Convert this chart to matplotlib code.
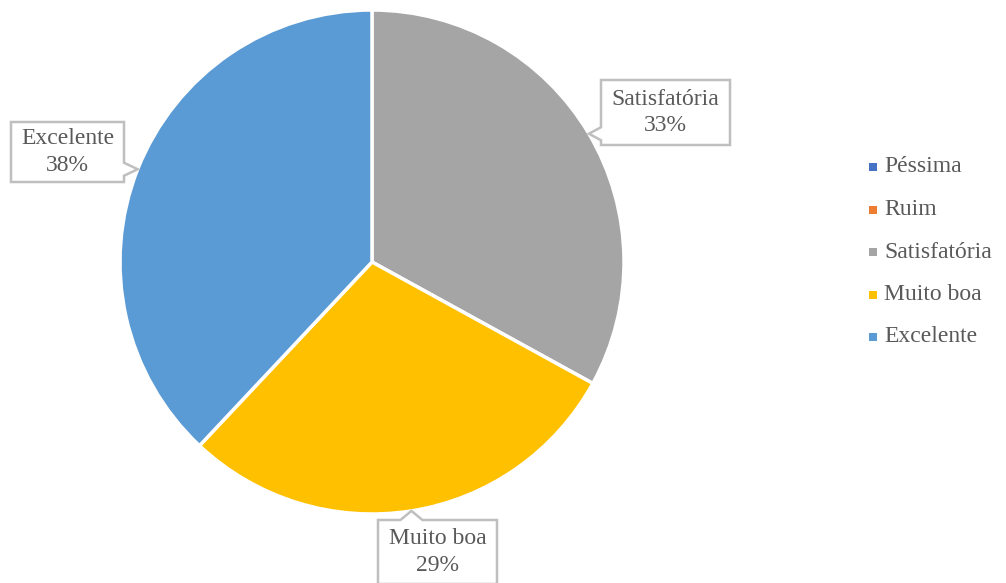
import numpy as np
import matplotlib
matplotlib.use("Agg")
import matplotlib.pyplot as plt
from matplotlib.patches import Polygon, Rectangle

categories = ["Péssima", "Ruim", "Satisfatória", "Muito boa", "Excelente"]
values = [0, 0, 33, 29, 38]
colors = ["#4472C4", "#ED7D31", "#A5A5A5", "#FFC000", "#5B9BD5"]

FAM = ['Liberation Serif', 'DejaVu Serif']
plt.rcParams['font.family'] = FAM
TXT = "#595959"
FS = 17

W, H = 1006, 583
fig = plt.figure(figsize=(W / 100, H / 100), dpi=100)
cx, cy, R = 372, 262, 252
ax = fig.add_axes([(cx - R) / W, (H - cy - R) / H, 2 * R / W, 2 * R / H])

wedges, _ = ax.pie(values, colors=colors, startangle=90, counterclock=False,
                   radius=1, wedgeprops=dict(edgecolor='white', linewidth=2.5))
ax.set_xlim(-1, 1)
ax.set_ylim(-1, 1)
ax.set_aspect('equal')
ax.axis('off')

px = 1.0 / R  # one pixel in data units

def to_data(pxx, pyy):
    return ((pxx - cx) / R, (cy - pyy) / R)

# callout boxes: (left, right, top, bottom) in pixel layout
boxes = {
    "Satisfatória": (601, 730, 80, 145),
    "Muito boa": (378, 497, 520, 584),
    "Excelente": (11, 124, 122, 182),
}

total = sum(values)
for w, cat, v in zip(wedges, categories, values):
    if v == 0:
        continue
    mid = np.deg2rad((w.theta1 + w.theta2) / 2)
    tx, ty = np.cos(mid), np.sin(mid)
    l, r, t, b = boxes[cat]
    l, t = to_data(l, t)
    r, b = to_data(r, b)
    hw = 6.5 * px
    if tx < l:
        yc = min(max(ty, b + 8 * px), t - 8 * px)
        verts = [(l, t), (r, t), (r, b), (l, b), (l, yc - hw), (tx, ty), (l, yc + hw)]
    elif tx > r:
        yc = min(max(ty, b + 8 * px), t - 8 * px)
        verts = [(l, t), (r, t), (r, yc + hw), (tx, ty), (r, yc - hw), (r, b), (l, b)]
    elif ty > t:
        xc = min(max(tx, l + 8 * px), r - 8 * px)
        hw2 = 11 * px
        verts = [(l, t), (xc - hw2, t), (tx, ty), (xc + hw2, t), (r, t), (r, b), (l, b)]
    else:
        xc = min(max(tx, l + 8 * px), r - 8 * px)
        verts = [(l, t), (r, t), (r, b), (xc + hw, b), (tx, ty), (xc - hw, b), (l, b)]
    poly = Polygon(verts, closed=True, facecolor='white', edgecolor='#BFBFBF',
                   linewidth=1.8, clip_on=False, zorder=5)
    ax.add_patch(poly)
    ax.text((l + r) / 2, (t + b) / 2, f"{cat}\n{round(100 * v / total)}%",
            ha='center', va='center', fontsize=FS, color=TXT, family=FAM,
            linespacing=1.35, zorder=6, clip_on=False)

# legend
leg_x, leg_y0, leg_dy = 873, 167, 42.5
for i, (cat, col) in enumerate(zip(categories, colors)):
    yy = leg_y0 + i * leg_dy
    fig.patches.append(Rectangle(((leg_x - 4) / W, (H - yy - 4) / H), 8 / W, 8 / H,
                                 transform=fig.transFigure, facecolor=col,
                                 edgecolor='none'))
    fig.text((leg_x + 11) / W, (H - yy) / H, cat, ha='left', va='center',
             fontsize=FS, color=TXT, family=FAM)

fig.savefig("out.png", dpi=100, facecolor='white')
